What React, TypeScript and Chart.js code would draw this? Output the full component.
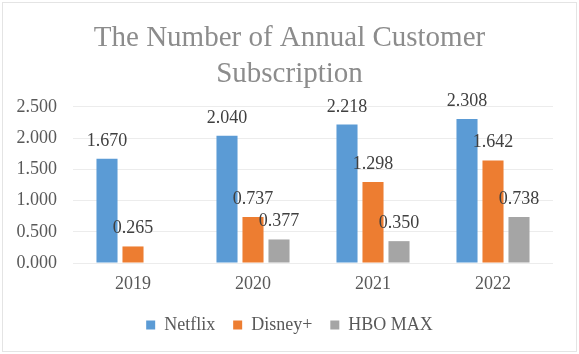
import React, { useEffect, useRef } from "react";
import { Chart, registerables } from "chart.js";

Chart.register(...registerables);

const categories = ["2019", "2020", "2021", "2022"];
const netflix = [1.67, 2.04, 2.218, 2.308];
const disney = [0.265, 0.737, 1.298, 1.642];
const hboMax = [null, 0.377, 0.35, 0.738];
const seriesNames = ["Netflix", "Disney+", "HBO MAX"];
const titleLines = ["The Number of Annual Customer", "Subscription"];

const FONT = "'Liberation Serif', 'Times New Roman', serif";
Chart.defaults.font.family = FONT;

const dataLabels = {
  id: "dataLabels",
  afterDatasetsDraw(chart: any) {
    const ctx = chart.ctx;
    ctx.save();
    ctx.font = `18px ${FONT}`;
    ctx.fillStyle = "#404040";
    ctx.textAlign = "center";
    ctx.textBaseline = "alphabetic";
    chart.data.datasets.forEach((ds: any, i: number) => {
      const meta = chart.getDatasetMeta(i);
      meta.data.forEach((el: any, j: number) => {
        const v = ds.data[j];
        if (v === null || v === undefined) return;
        ctx.fillText(Number(v).toFixed(3), el.x, el.y - 13);
      });
    });
    ctx.restore();
  },
};

const frame = {
  id: "frame",
  beforeDraw(chart: any) {
    const ctx = chart.ctx;
    ctx.save();
    ctx.fillStyle = "#ffffff";
    ctx.fillRect(0, 0, chart.width, chart.height);
    ctx.strokeStyle = "#e4e4e4";
    ctx.lineWidth = 1;
    ctx.strokeRect(2.5, 2.5, chart.width - 5, chart.height - 5);
    ctx.restore();
  },
};

export default function App() {
  const ref = useRef<HTMLCanvasElement | null>(null);
  useEffect(() => {
    document.body.style.margin = "0";
    const chart = new Chart(ref.current as HTMLCanvasElement, {
      type: "bar",
      data: {
        labels: categories,
        datasets: [
          { label: seriesNames[0], data: netflix, backgroundColor: "#5B9BD5" },
          { label: seriesNames[1], data: disney, backgroundColor: "#ED7D31" },
          { label: seriesNames[2], data: hboMax as any, backgroundColor: "#A5A5A5" },
        ],
      },
      options: {
        animation: false,
        responsive: false,
        maintainAspectRatio: false,
        layout: { padding: { left: 0, right: 0, top: 0, bottom: 10 } },
        datasets: { bar: { categoryPercentage: 0.65, barPercentage: 0.81 } },
        plugins: {
          title: {
            display: true,
            text: titleLines,
            color: "#8c8c8c",
            font: { family: FONT, size: 29, weight: "normal", lineHeight: 1.24 },
            padding: { top: 20, bottom: 15 },
          },
          legend: {
            position: "bottom",
            labels: {
              color: "#595959",
              font: { family: FONT, size: 18, weight: "normal" },
              boxWidth: 9,
              boxHeight: 9,
              padding: 18,
            },
          },
          tooltip: { enabled: false },
        },
        scales: {
          x: {
            grid: { display: false, drawTicks: false },
            border: { display: false },
            ticks: { color: "#595959", font: { family: FONT, size: 18 }, padding: 10 },
            afterFit(scale: any) {
              scale.height = 35;
            },
          },
          y: {
            min: 0,
            max: 2.5,
            grid: { color: "#ececec", drawTicks: false },
            border: { display: false },
            ticks: {
              stepSize: 0.5,
              color: "#595959",
              font: { family: FONT, size: 18 },
              padding: 16,
              callback: (v: any) => Number(v).toFixed(3),
            },
            afterFit(scale: any) {
              scale.width = 73;
            },
          },
          yRightSpace: {
            position: "right",
            display: true,
            grid: { display: false, drawTicks: false },
            border: { display: false },
            ticks: { display: false },
            afterFit(scale: any) {
              scale.width = 26;
            },
          },
        },
      },
      plugins: [frame, dataLabels],
    });
    return () => chart.destroy();
  }, []);
  return (
    <div style={{ width: 579, height: 354 }}>
      <canvas ref={ref} width={579} height={354} style={{ display: "block" }} />
    </div>
  );
}
